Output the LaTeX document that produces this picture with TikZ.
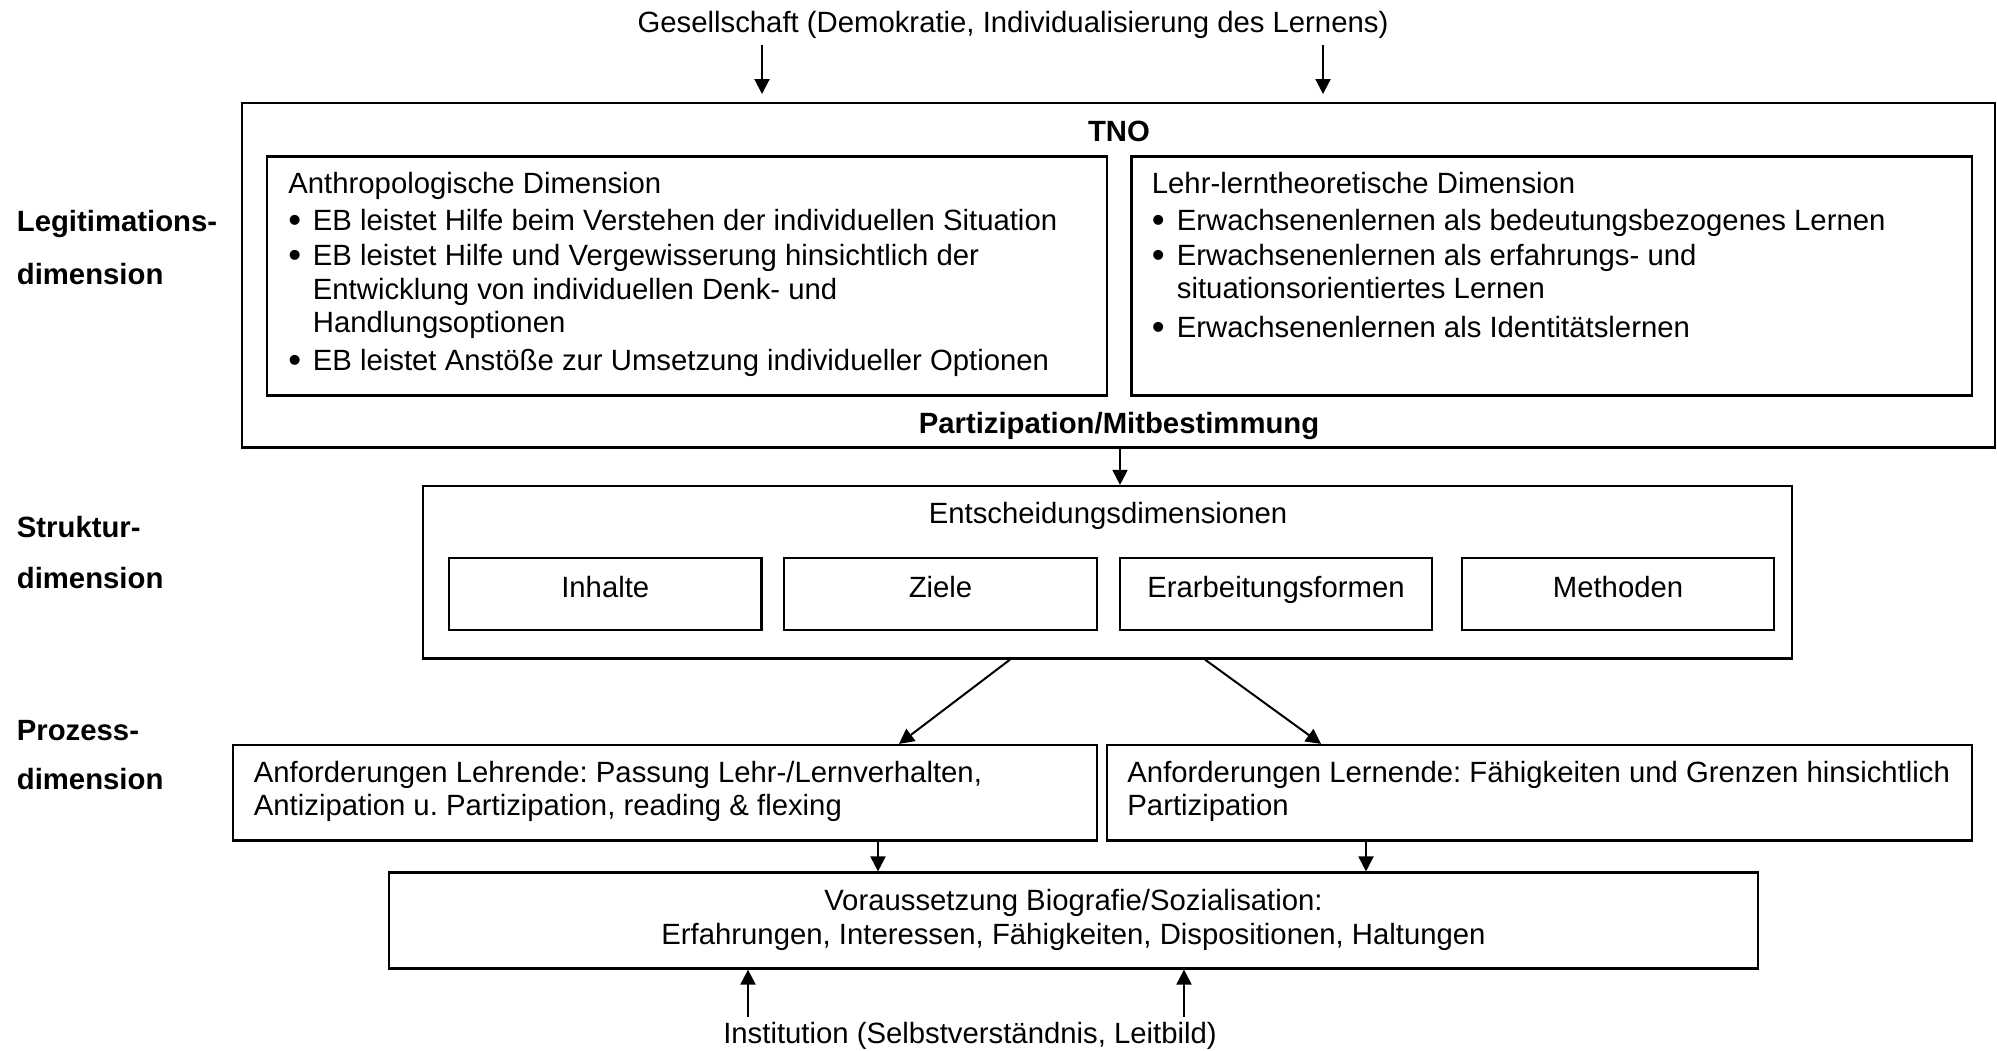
\documentclass[tikz,border=0pt]{standalone}
\usepackage{fontspec}
\setmainfont{Liberation Sans}
\usetikzlibrary{arrows.meta}
\frenchspacing
\newcommand\mybul{\raisebox{-1.2bp}{\scalebox{1.25}{\textbullet}}}
\begin{document}
\frenchspacing
\begin{tikzpicture}[x=0.5bp,y=-0.5bp,
  every node/.style={font=\fontsize{14.65bp}{16.75bp}\selectfont},
  box/.style={draw,line width=1.1bp,inner sep=0pt,rectangle},
  txt/.style={inner sep=0pt,anchor=base west},
  ctxt/.style={inner sep=0pt,anchor=base},
  bold/.style={font=\fontsize{14.65bp}{16.75bp}\selectfont\bfseries},
  arr/.style={line width=1bp,-{Triangle[length=7.5bp,width=7.5bp]}}]
\useasboundingbox (0,0) rectangle (1997,1050);

% side labels
\node[txt,bold] (leg1) at (16.5,231) {Legitimations-};
\node[txt,bold] (leg2) at (16.5,284) {dimension};
\node[txt,bold] (str1) at (16.5,537) {Struktur-};
\node[txt,bold] (str2) at (16.5,588) {dimension};
\node[txt,bold] (pro1) at (16.5,740) {Prozess-};
\node[txt,bold] (pro2) at (16.5,789) {dimension};

% top text
\node[ctxt] (ges) at (1013,32) {Gesellschaft (Demokratie, Individualisierung des Lernens)};

% outer TNO box
\node[box,minimum width=876.5bp,minimum height=172.25bp] (outer) at (1118.5,275.25) {};
\node[ctxt,bold] (tno) at (1119,141.5) {TNO};
\node[ctxt,bold] (part) at (1119,433) {Partizipation/Mitbestimmung};

% left inner box
\node[box,minimum width=420bp,minimum height=119.5bp] (anth) at (687,276) {};
\node[txt] (a0) at (288,193) {Anthropologische Dimension};
\node[txt] (ab1) at (288,230) {\mybul};
\node[txt] (a1) at (312.5,230) {EB leistet Hilfe beim Verstehen der individuellen Situation};
\node[txt] (ab2) at (288,265) {\mybul};
\node[txt] (a2) at (312.5,265) {EB leistet Hilfe und Vergewisserung hinsichtlich der};
\node[txt] (a3) at (312.5,299) {Entwicklung von individuellen Denk- und};
\node[txt] (a4) at (312.5,332) {Handlungsoptionen};
\node[txt] (ab3) at (288,370) {\mybul};
\node[txt] (a5) at (312.5,370) {EB leistet Anstöße zur Umsetzung individueller Optionen};

% right inner box
\node[box,minimum width=420.25bp,minimum height=119.5bp] (lehr) at (1551.75,276) {};
\node[txt] (l0) at (1151.5,193) {Lehr-lerntheoretische Dimension};
\node[txt] (lb1) at (1151.5,230) {\mybul};
\node[txt] (l1) at (1176.5,230) {Erwachsenenlernen als bedeutungsbezogenes Lernen};
\node[txt] (lb2) at (1151.5,265) {\mybul};
\node[txt] (l2) at (1176.5,265) {Erwachsenenlernen als erfahrungs- und};
\node[txt] (l3) at (1176.5,298) {situationsorientiertes Lernen};
\node[txt] (lb3) at (1151.5,337) {\mybul};
\node[txt] (l4) at (1176.5,337) {Erwachsenenlernen als Identitätslernen};

% Entscheidungsdimensionen
\node[box,minimum width=684.5bp,minimum height=86.25bp] (ent) at (1107.5,572.25) {};
\node[ctxt] (entt) at (1108,523) {Entscheidungsdimensionen};
\node[box,minimum width=156.25bp,minimum height=36bp] (inh) at (605.25,594) {};
\node[ctxt] (inht) at (605.25,597) {Inhalte};
\node[box,minimum width=156.5bp,minimum height=36bp] (zie) at (940.5,594) {};
\node[ctxt] (ziet) at (940.5,597) {Ziele};
\node[box,minimum width=156bp,minimum height=36bp] (era) at (1276,594) {};
\node[ctxt] (erat) at (1276,597) {Erarbeitungsformen};
\node[box,minimum width=156bp,minimum height=36bp] (met) at (1618,594) {};
\node[ctxt] (mett) at (1618,597) {Methoden};

% Anforderungen
\node[box,minimum width=432bp,minimum height=47.75bp] (lhr) at (665,792.75) {};
\node[txt] (lhr1) at (253.5,782) {Anforderungen Lehrende: Passung Lehr-/Lernverhalten,};
\node[txt] (lhr2) at (253.5,815) {Antizipation u.\ Partizipation, reading \& flexing};
\node[box,minimum width=432.5bp,minimum height=47.75bp] (lrn) at (1539.5,792.75) {};
\node[txt] (lrn1) at (1127,782) {Anforderungen Lernende: Fähigkeiten und Grenzen hinsichtlich};
\node[txt] (lrn2) at (1127,815) {Partizipation};

% Voraussetzung
\node[box,minimum width=684.5bp,minimum height=48bp] (vor) at (1073.5,920.5) {};
\node[ctxt] (vor1) at (1073.5,910) {Voraussetzung Biografie/Sozialisation:};
\node[ctxt] (vor2) at (1073.5,944) {Erfahrungen, Interessen, Fähigkeiten, Dispositionen, Haltungen};

% bottom text
\node[ctxt] (ins) at (970,1043) {Institution (Selbstverständnis, Leitbild)};

% coordinates
\coordinate (g1a) at (762,45);
\coordinate (g1b) at (762,94);
\coordinate (g2a) at (1323,45);
\coordinate (g2b) at (1323,94);
\coordinate (c1) at (1120,0);
\coordinate (d1s) at (1010,0);
\coordinate (d1e) at (899,0);
\coordinate (d2s) at (1205,0);
\coordinate (d2e) at (1321,0);
\coordinate (v1) at (878,0);
\coordinate (v2) at (1366,0);
\coordinate (i1) at (748,1017);
\coordinate (i2) at (1184,1017);

% connectors
\draw[arr] (g1a) -- (g1b);
\draw[arr] (g2a) -- (g2b);
\draw[arr] (outer.south -| c1) -- (ent.north -| c1);
\draw[arr] (ent.south -| d1s) -- (lhr.north -| d1e);
\draw[arr] (ent.south -| d2s) -- (lrn.north -| d2e);
\draw[arr] (lhr.south -| v1) -- (vor.north -| v1);
\draw[arr] (lrn.south -| v2) -- (vor.north -| v2);
\draw[arr] (i1) -- (vor.south -| i1);
\draw[arr] (i2) -- (vor.south -| i2);
\end{tikzpicture}
\end{document}
